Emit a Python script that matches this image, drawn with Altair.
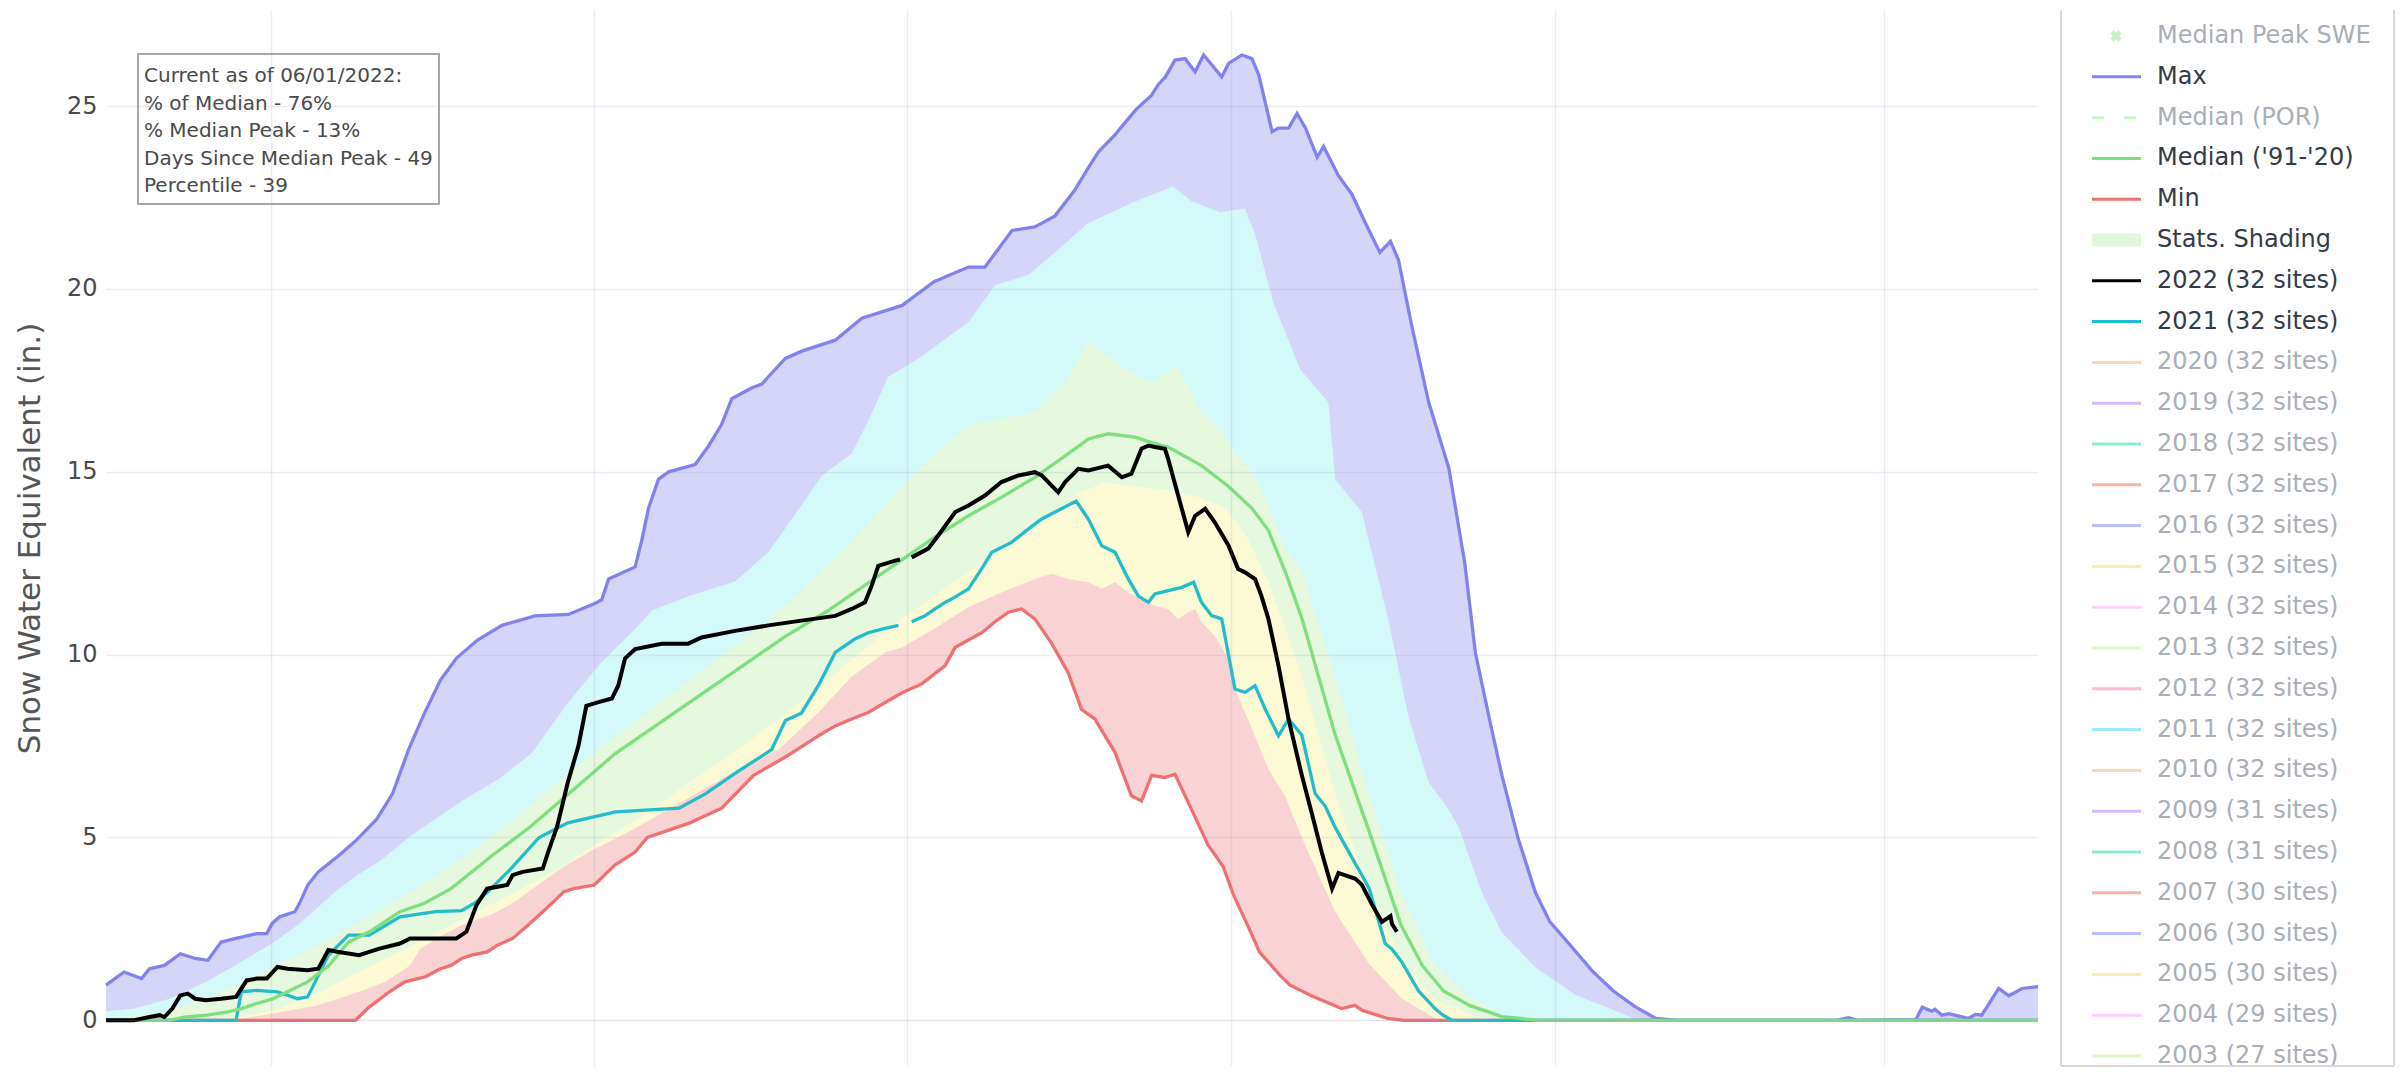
import altair as alt
import pandas as pd

# ---------------------------------------------------------------- data
# (day of water year counted from 1 Oct 2021, snow water equivalent in inches)
WY_START = "2021-10-01"
X_END = "2022-09-30"
GRID_DATES = ["2021-11-01", "2022-01-01", "2022-03-01", "2022-05-01", "2022-07-01", "2022-09-01"]
Y_TICKS = [0, 5, 10, 15, 20, 25]
Y_TITLE = "Snow Water Equivalent (in.)"

MAX = [(0, 0.96), (3.4, 1.32), (6.7, 1.14), (8.2, 1.41), (11, 1.5), (14, 1.82), (16.8, 1.69), (19.2, 1.64),
       (21.7, 2.14), (24.5, 2.24), (28.4, 2.37), (30.3, 2.37), (31.3, 2.65), (32.7, 2.83), (35.6, 2.97),
       (36.6, 3.24), (38, 3.7), (40, 4.06), (43.8, 4.5), (47, 4.9), (51, 5.5), (54, 6.2), (57, 7.4), (60, 8.4),
       (63, 9.3), (66, 9.9), (70, 10.4), (74.6, 10.8), (80.8, 11.06), (87.1, 11.1), (92.1, 11.4), (93.4, 11.5),
       (94.7, 12.07), (99.7, 12.4), (100.9, 13.1), (102.2, 14.0), (104.1, 14.8), (106, 15.0), (111, 15.2),
       (113.5, 15.7), (116, 16.3), (117.9, 17.0), (121.7, 17.3), (123.6, 17.4), (124.8, 17.6), (128, 18.1),
       (131.1, 18.3), (137.4, 18.6), (142.4, 19.2), (150, 19.55), (156, 20.2), (162.5, 20.6), (165.6, 20.6),
       (170.7, 21.6), (175, 21.7), (178.8, 22.0), (182.5, 22.7), (185, 23.3), (187, 23.75), (190, 24.2),
       (194, 24.9), (197, 25.3), (198.3, 25.6), (199.6, 25.8), (201.4, 26.26), (203.3, 26.3), (205.2, 25.94),
       (206.8, 26.4), (210.2, 25.8), (211.5, 26.17), (214, 26.4), (215.9, 26.3), (217.2, 25.85), (219.7, 24.3),
       (220.9, 24.4), (222.8, 24.4), (224.4, 24.8), (226, 24.4), (228.2, 23.6), (229.4, 23.9), (232.2, 23.1),
       (234.7, 22.6), (237.3, 21.8), (240, 21.0), (242, 21.3), (243.5, 20.8), (246, 19.0), (249.2, 16.9),
       (253, 15.1), (256, 12.5), (258, 10.05), (261, 8.0), (263, 6.7), (266, 5.0), (269.3, 3.5), (272, 2.7),
       (275.6, 2.1), (280, 1.35), (284, 0.8), (288, 0.38), (292, 0.05), (296, 0), (326, 0), (328.3, 0.07),
       (330, 0), (341, 0.02), (342.2, 0.36), (344, 0.25), (344.6, 0.3), (345.9, 0.14), (347.2, 0.18),
       (350.9, 0.05), (352.2, 0.16), (353.4, 0.14), (356.6, 0.87), (358.5, 0.67), (361, 0.87), (363.2, 0.91),
       (364, 0.92)]

P90 = [(0, 0.25), (5.3, 0.32), (12, 0.59), (18.8, 1.05), (25.5, 1.6), (31.3, 2.1), (36.1, 2.6), (40, 3.1),
       (43.8, 3.6), (47.7, 4.0), (52, 4.4), (57, 5.0), (62, 5.5), (67, 6.0), (74, 6.6), (80.2, 7.3), (87.1, 8.7),
       (93.4, 9.8), (99.7, 10.7), (102.8, 11.2), (109.7, 11.6), (118.5, 12.0), (124.8, 12.8), (131.1, 14.1),
       (134.9, 14.9), (140.5, 15.5), (143.6, 16.4), (147.4, 17.6), (153.1, 18.1), (162.5, 19.1), (167.5, 20.1),
       (174, 20.4), (178, 20.9), (185, 21.8), (194, 22.4), (201, 22.8), (204.5, 22.4), (210, 22.1),
       (214.6, 22.2), (216.5, 21.5), (220, 19.6), (225, 17.8), (230.3, 16.9), (231.6, 14.8), (236.6, 13.9),
       (241.7, 10.9), (245.4, 8.3), (249.2, 6.5), (252.3, 5.9), (254.8, 5.3), (259.2, 3.5), (263, 2.4),
       (269.3, 1.45), (276.8, 0.7), (288, 0.05), (292, 0), (364, 0)]

P70 = [(0, 0.05), (10, 0.2), (18.8, 0.59), (28.4, 1.23), (38, 1.9), (47.7, 2.7), (57.3, 3.5), (67, 4.4),
       (76, 5.4), (85, 6.5), (92, 7.3), (100, 8.2), (110, 9.3), (120, 10.4), (130, 11.6), (140, 13.0),
       (150, 14.6), (156.2, 15.5), (162.5, 16.27), (168.7, 16.45), (175, 16.63), (181.3, 17.55), (185.1, 18.55),
       (187.6, 18.3), (191.4, 17.9), (195.1, 17.55), (197.6, 17.45), (201.4, 17.9), (203.9, 17.36),
       (206.4, 16.63), (210.2, 16.1), (212.7, 15.5), (215.9, 15.0), (219, 14.1), (222.1, 12.9), (225.3, 12.3),
       (231.6, 9.4), (237.9, 6.2), (244, 3.5), (250, 1.6), (257, 0.6), (263, 0.16), (270, 0), (364, 0)]

P30 = [(0, 0), (20, 0), (28, 0.15), (33, 0.35), (40, 0.75), (48, 1.35), (57, 2.0), (67, 2.75), (77, 3.5),
       (86, 4.2), (92, 4.8), (100, 5.5), (110, 6.5), (120, 7.5), (130, 8.6), (140, 9.8), (150, 11.0),
       (160, 12.0), (170, 13.0), (178, 13.8), (183, 14.4), (188, 14.7), (194, 14.6), (200, 14.5), (206, 14.3),
       (211, 14.0), (215, 13.2), (219, 12.0), (222, 10.8), (225.3, 9.4), (231.6, 6.2), (238, 3.5), (244, 1.7),
       (250, 0.6), (257, 0.16), (263, 0), (364, 0)]

P10 = [(0, 0), (24, 0), (33, 0.23), (40, 0.41), (47.7, 0.78), (52.5, 1.05), (57.3, 1.5), (59.2, 1.96),
       (63, 2.3), (67, 2.6), (72.7, 2.9), (76.6, 3.2), (81.4, 3.7), (86.2, 4.2), (91, 4.6), (97.8, 5.1),
       (104, 5.6), (110, 6.1), (116, 6.6), (122, 7.1), (126.7, 7.4), (134.2, 8.42), (140.5, 9.4),
       (146.8, 10.06), (150, 10.2), (156, 10.7), (162.5, 11.3), (168.7, 11.7), (175, 12.07), (178.2, 12.21),
       (181.3, 12.07), (185.1, 11.98), (187.6, 11.8), (190.1, 11.98), (192.6, 11.7), (195.1, 11.52),
       (197.6, 11.34), (200.1, 11.25), (202, 10.98), (203.9, 11.16), (205.2, 11.25), (206.4, 10.9),
       (208.9, 10.5), (211.5, 9.9), (212.7, 9.06), (215.9, 7.97), (219, 6.87), (222.1, 6.14), (225.3, 5.0),
       (231.6, 2.96), (237.9, 1.56), (244.1, 0.6), (250.4, 0.05), (255, 0), (364, 0)]

MIN = [(0, 0), (47, 0), (49.6, 0.36), (53.4, 0.78), (56.3, 1.05), (60.2, 1.19), (63, 1.41), (65, 1.5),
       (67, 1.69), (68.9, 1.78), (71.8, 1.87), (73.7, 2.05), (76.6, 2.24), (79.5, 2.6), (82.3, 2.97),
       (84.3, 3.24), (86.2, 3.51), (88.1, 3.6), (92, 3.7), (93.9, 3.97), (95.8, 4.24), (99.7, 4.6), (102, 5.0),
       (110, 5.4), (116, 5.8), (122, 6.7), (128, 7.2), (134.2, 7.78), (137.4, 8.05), (140.5, 8.24),
       (143.6, 8.42), (146.8, 8.69), (149.9, 8.95), (153.7, 9.2), (158.1, 9.7), (160, 10.2), (162.5, 10.4),
       (165, 10.6), (167.5, 10.9), (170, 11.16), (172.5, 11.25), (175, 10.98), (178.2, 10.3), (181.3, 9.5),
       (183.8, 8.5), (186.3, 8.24), (190.1, 7.33), (193.2, 6.14), (195.1, 6.0), (197, 6.7), (199.5, 6.64),
       (201.4, 6.73), (203.9, 5.96), (207.6, 4.8), (210.5, 4.2), (212.5, 3.4), (215.4, 2.5), (217.3, 1.87),
       (221.2, 1.23), (223.1, 0.96), (227, 0.68), (229.9, 0.5), (232.8, 0.32), (235.3, 0.41), (236.7, 0.27),
       (241.5, 0.05), (244.5, 0), (364, 0)]

MEDIAN = [(0, 0), (12, 0), (15, 0.09), (19, 0.14), (23, 0.23), (25.5, 0.32), (28.4, 0.46), (31.3, 0.58),
          (34.2, 0.78), (38, 1.05), (42, 1.5), (45.7, 2.14), (50, 2.45), (55.4, 2.97), (60, 3.2), (65, 3.6),
          (72.7, 4.5), (80, 5.3), (88, 6.3), (96, 7.3), (104, 8.1), (112, 8.9), (120, 9.7), (128, 10.5),
          (136, 11.2), (144, 12.0), (150, 12.6), (156, 13.2), (162.5, 13.8), (168.7, 14.3), (175, 14.85),
          (181.3, 15.5), (185.1, 15.9), (188.8, 16.04), (193.9, 15.95), (197, 15.8), (200.2, 15.67),
          (206.4, 15.17), (211.5, 14.6), (215.9, 14.0), (219, 13.4), (222.1, 12.3), (225.3, 11.0),
          (231.6, 7.8), (237.9, 5.2), (244, 2.6), (248, 1.5), (252, 0.8), (257, 0.4), (263, 0.1), (270, 0),
          (364, 0)]

Y2022 = [(0, 0), (5.3, 0), (8.2, 0.09), (10.1, 0.14), (11, 0.09), (12.5, 0.32), (14, 0.68), (15.4, 0.73),
         (16.8, 0.59), (18.8, 0.55), (21.7, 0.59), (24.5, 0.64), (26.5, 1.09), (28.4, 1.14), (30.3, 1.14),
         (32.3, 1.46), (34.2, 1.41), (38, 1.37), (40, 1.41), (41.9, 1.92), (43.8, 1.87), (47.7, 1.78),
         (51.5, 1.96), (55.4, 2.1), (57.3, 2.24), (63, 2.24), (66, 2.24), (67.9, 2.42), (69.8, 3.15),
         (71.8, 3.6), (75.6, 3.7), (76.6, 3.97), (78.5, 4.06), (82.3, 4.15), (83.3, 4.6), (85, 5.3), (87, 6.5),
         (89, 7.5), (90.5, 8.6), (92.8, 8.7), (95.3, 8.8), (96.5, 9.15), (97.8, 9.9), (99.7, 10.15),
         (104.7, 10.3), (109.7, 10.3), (112.2, 10.47), (118.5, 10.65), (124.8, 10.8), (131, 10.93),
         (137.4, 11.06), (140.5, 11.25), (143, 11.43), (144.3, 11.9), (145.5, 12.43), (148.7, 12.57),
         (149.6, 12.6), None, (151.8, 12.66), (154.9, 12.9), (156.8, 13.26), (160, 13.9), (162.5, 14.08),
         (165.6, 14.35), (168.7, 14.72), (171.9, 14.9), (175, 14.99), (176.3, 14.9), (179.4, 14.44),
         (180.7, 14.72), (183.2, 15.08), (185.1, 15.04), (186.3, 15.08), (188.8, 15.17), (191.4, 14.85),
         (193.2, 14.95), (195.1, 15.63), (196.4, 15.72), (197.6, 15.68), (199.5, 15.63), (200.1, 15.36),
         (202, 14.35), (203.9, 13.35), (205.2, 13.8), (207.1, 13.99), (208.9, 13.62), (211.5, 12.98),
         (213.3, 12.34), (214.6, 12.25), (216.5, 12.07), (217.7, 11.6), (219, 10.98), (220.9, 9.7),
         (222.8, 8.24), (225.3, 6.7), (227.2, 5.65), (229.1, 4.57), (231, 3.6), (232.2, 4.03), (235.4, 3.87),
         (236.6, 3.71), (238.5, 3.17), (240.4, 2.69), (242, 2.85), (242.3, 2.63), (243.2, 2.42)]

Y2021 = [(0, 0), (24.5, 0), (25.5, 0.78), (28.4, 0.82), (32.3, 0.78), (36.1, 0.59), (38, 0.64), (41.9, 1.78),
         (45.7, 2.33), (49.6, 2.33), (55.4, 2.83), (62.1, 2.97), (67, 3.0), (69.8, 3.24), (71.8, 3.5),
         (76, 4.1), (81.6, 5.0), (87, 5.4), (96, 5.7), (108, 5.8), (113, 6.2), (119, 6.8), (125.4, 7.4),
         (128, 8.2), (131, 8.4), (134.2, 9.15), (137.4, 10.06), (141.1, 10.43), (143.6, 10.6), (146.2, 10.7),
         (149.3, 10.8), None, (151.8, 10.9), (154.3, 11.06), (156.2, 11.25), (158.1, 11.43), (159.3, 11.52),
         (162.5, 11.8), (165, 12.35), (166.9, 12.8), (170.6, 13.07), (173.8, 13.44), (176.3, 13.71),
         (180, 13.99), (182.8, 14.2), (185.1, 13.7), (187.6, 12.98), (190.1, 12.8), (192.6, 12.07),
         (194.5, 11.6), (196.4, 11.43), (197.6, 11.66), (200.1, 11.75), (202.7, 11.84), (204.9, 11.98),
         (206.4, 11.43), (208.3, 11.07), (210.2, 10.98), (212.7, 9.06), (214.6, 8.97), (216.5, 9.15),
         (218.4, 8.51), (220.9, 7.78), (222.8, 8.24), (225.3, 7.8), (227.8, 6.2), (229.7, 5.86), (231.5, 5.3),
         (233, 4.9), (236.5, 4.0), (238, 3.6), (241, 2.1), (242.3, 1.94), (244.1, 1.6), (247.3, 0.8),
         (250.4, 0.32), (251.7, 0.16), (253.6, 0), (364, 0)]

ANNOT_LINES = ["Current as of 06/01/2022:", "% of Median - 76%", "% Median Peak - 13%",
               "Days Since Median Peak - 49", "Percentile - 39"]

LEGEND_LABELS = ["Median Peak SWE", "Max", "Median (POR)", "Median ('91-'20)", "Min", "Stats. Shading",
                 "2022 (32 sites)", "2021 (32 sites)", "2020 (32 sites)", "2019 (32 sites)", "2018 (32 sites)",
                 "2017 (32 sites)", "2016 (32 sites)", "2015 (32 sites)", "2014 (32 sites)", "2013 (32 sites)",
                 "2012 (32 sites)", "2011 (32 sites)", "2010 (32 sites)", "2009 (31 sites)", "2008 (31 sites)",
                 "2007 (30 sites)", "2006 (30 sites)", "2005 (30 sites)", "2004 (29 sites)", "2003 (27 sites)"]
LEGEND_ACTIVE = [False, True, False, True, True, True, True, True] + [False] * 18
LEGEND_KIND = ["x", "line", "dash", "line", "line", "band", "line", "line"] + ["line"] * 18

# ---------------------------------------------------------------- styles
LEGEND_COLORS = ["#7ee07e", "#8484ee", "#90e890", "#7ddf7d", "#ef7373", "#e1f6dc", "#000000", "#1fbfd6",
                 "#FFA15A", "#AB63FA", "#00CC96", "#EF553B", "#636EFA", "#FECB52", "#FF97FF", "#B6E880",
                 "#FF6692", "#19D3F3", "#FFA15A", "#AB63FA", "#00CC96", "#EF553B", "#636EFA", "#FECB52",
                 "#FF97FF", "#B6E880"]
FONT = "DejaVu Sans"
TXT = "#4a4a4a"
W, H = 1932, 1056
LW, LH = 333, 1056
Y_DOMAIN = [-1.25, 27.63]
GRID = dict(gridColor="#8c96be", gridOpacity=0.17, gridWidth=1.5)


def to_df(pairs):
    start = pd.Timestamp(WY_START)
    rows, seg = [], 0
    for p in pairs:
        if p is None:
            seg += 1
            continue
        d, v = p
        rows.append({"date": start + pd.Timedelta(days=d), "v": v, "seg": seg})
    return pd.DataFrame(rows)


def dt(s):
    t = pd.Timestamp(s)
    return alt.DateTime(year=t.year, month=t.month, date=t.day)


x_enc = alt.X("date:T", title="",
              scale=alt.Scale(domain=[dt(WY_START), dt(X_END)], nice=False),
              axis=alt.Axis(values=[dt(s) for s in GRID_DATES], labels=False, ticks=False, domain=False,
                            grid=True, zindex=1, **GRID))
y_enc = alt.Y("v:Q", title=Y_TITLE,
              scale=alt.Scale(domain=Y_DOMAIN, nice=False, zero=False),
              axis=alt.Axis(values=Y_TICKS, format="d", labelFont=FONT, labelFontSize=24, labelColor=TXT,
                            labelPadding=9, ticks=False, tickSize=0, domain=False, grid=True, zindex=1,
                            titleFont=FONT, titleFontSize=31, titleFontWeight="normal", titleColor="#555555",
                            titlePadding=20, **GRID))

# painter's order: each band filled from 0 up to its upper boundary
bands = [(MAX, "#d5d5f9"), (P90, "#d4f9f9"), (P70, "#e6f8dd"), (P30, "#fbfad5"), (P10, "#f9d3d3"),
         (MIN, "#ffffff")]
areas = [alt.Chart(to_df(p)).mark_area(color=c, opacity=1, interpolate="linear")
         .encode(x=x_enc, y=y_enc, y2=alt.datum(0)) for p, c in bands]

line_specs = [(MAX, "#8282ee", 3.3), (MIN, "#ef7070", 3.3), (Y2021, "#22bccb", 3.3),
              (MEDIAN, "#7ddf7d", 3.3), (Y2022, "#000000", 4)]
lines = [alt.Chart(to_df(p)).mark_line(color=c, strokeWidth=w, interpolate="linear")
         .encode(x=x_enc, y=y_enc, detail="seg:N") for p, c, w in line_specs]

one = pd.DataFrame({"a": [0]})
box = alt.Chart(one).mark_rect(fill="white", stroke="#a8a8a8", strokeWidth=2).encode(
    x=alt.value(32), x2=alt.value(333), y=alt.value(44), y2=alt.value(194))
note = alt.Chart(one).mark_text(align="left", baseline="middle", font=FONT, fontSize=20, color=TXT,
                                lineHeight=27.6).encode(
    x=alt.value(38), y=alt.value(66), text=alt.value(ANNOT_LINES))

main = alt.layer(*areas, *lines, box, note).properties(width=W, height=H)

# ---------------------------------------------------------------- legend panel
leg = pd.DataFrame({"label": LEGEND_LABELS, "active": LEGEND_ACTIVE, "kind": LEGEND_KIND,
                    "color": LEGEND_COLORS})
ly = alt.Y("label:N", sort=LEGEND_LABELS, axis=None,
           scale=alt.Scale(type="point", range=[26, 1046], padding=0))
fade = alt.condition("datum.active", alt.value(1), alt.value(0.45))
lbase = alt.Chart(leg)

SX0, SX1, SXM, TX = 31, 80, 55, 96
sym_line = lbase.mark_rule(strokeWidth=3).encode(
    x=alt.value(SX0), x2=alt.value(SX1), y=ly, color=alt.Color("color:N", scale=None), opacity=fade
).transform_filter("datum.kind == 'line'")
sym_dash = lbase.mark_rule(strokeWidth=3, strokeDash=[12, 20]).encode(
    x=alt.value(SX0), x2=alt.value(SX1), y=ly, color=alt.Color("color:N", scale=None), opacity=fade
).transform_filter("datum.kind == 'dash'")
sym_band = lbase.mark_rule(strokeWidth=13).encode(
    x=alt.value(SX0), x2=alt.value(SX1), y=ly, color=alt.Color("color:N", scale=None)
).transform_filter("datum.kind == 'band'")
sym_x = lbase.mark_point(shape="cross", angle=45, filled=True, size=130).encode(
    x=alt.value(SXM), y=ly, color=alt.Color("color:N", scale=None), opacity=fade
).transform_filter("datum.kind == 'x'")
labels = lbase.mark_text(align="left", baseline="middle", font=FONT, fontSize=24).encode(
    x=alt.value(TX), y=ly, text="label:N",
    color=alt.condition("datum.active", alt.value("#333b48"), alt.value("#a9aeb7")))

bstyle = dict(color="#d8d8d8", strokeWidth=2)
b_left = alt.Chart(one).mark_rule(**bstyle).encode(x=alt.value(0), y=alt.value(0), y2=alt.value(LH))
b_right = alt.Chart(one).mark_rule(**bstyle).encode(x=alt.value(LW), y=alt.value(0), y2=alt.value(LH))
b_bottom = alt.Chart(one).mark_rule(**bstyle).encode(x=alt.value(0), x2=alt.value(LW), y=alt.value(LH))

legend = alt.layer(sym_band, sym_line, sym_dash, sym_x, labels, b_left, b_right, b_bottom).properties(
    width=LW, height=LH)

chart = alt.hconcat(main, legend, spacing=13).properties(
    padding={"left": 5, "top": 0, "right": 0, "bottom": 0},
    background="white").configure_view(stroke="transparent")

chart.save("out.html", embed_options={"renderer": "svg", "actions": False})
